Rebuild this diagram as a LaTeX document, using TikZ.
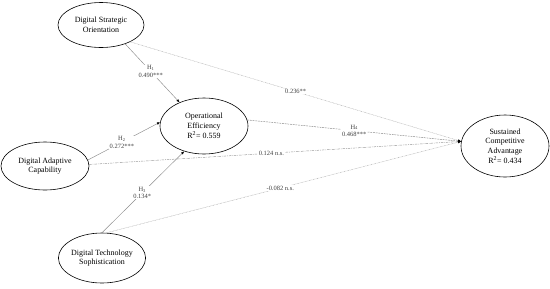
\documentclass[tikz,border=0pt]{standalone}
\usepackage{fontspec}
\setmainfont{Liberation Serif}
\usetikzlibrary{shapes.geometric,arrows.meta}
\begin{document}
\begin{tikzpicture}[x=1bp,y=-1bp,
  construct/.style={draw=black,line width=0.6pt,ellipse,inner sep=0pt,align=center,font=\fontsize{8}{9.8}\selectfont},
  path/.style={draw=black!45,line width=0.45pt,-{Latex[length=3.2pt,width=2.6pt,black]}},
  dotline/.style={draw=black!30,line width=0.5pt,dash pattern=on 0.7pt off 0.7pt,-{Latex[length=3.2pt,width=2.6pt,black]}},
  dashline/.style={draw=black!45,line width=0.5pt,dash pattern=on 1.8pt off 0.9pt,-{Latex[length=3.2pt,width=2.6pt,black]}},
  dashdotline/.style={draw=black!40,line width=0.5pt,dash pattern=on 2.5pt off 1pt on 0.7pt off 1pt,-{Latex[length=3.2pt,width=2.6pt,black]}},
  lab/.style={fill=white,inner sep=0.6pt,align=center,font=\fontsize{6.5}{7.5}\selectfont,text=black!75}]
\useasboundingbox (0,0) rectangle (550,288);
\node[construct,minimum width=86bp,minimum height=45bp] (dso) at (101,25) {Digital Strategic\\Orientation};
\node[construct,minimum width=88bp,minimum height=48bp] (dac) at (45,166) {Digital Adaptive\\Capability};
\node[construct,minimum width=86bp,minimum height=50bp] (dts) at (102,258) {Digital Technology\\Sophistication};
\node[construct,minimum width=88bp,minimum height=56bp] (oe) at (204,126) {Operational\\Efficiency\\R\textsuperscript{2}= 0.559};
\node[construct,minimum width=88bp,minimum height=62bp] (sca) at (505,146) {Sustained\\Competitive\\Advantage\\R\textsuperscript{2}= 0.434};
\coordinate (tip) at (sca.174);
% paths to Operational Efficiency
\draw[path] (dso.-38) -- node[lab,pos=0.47] {H\textsubscript{1}\\0.490***} (oe.136);
\draw[path] (dac.8) -- node[lab,pos=0.47] {H\textsubscript{2}\\0.272***} (oe.175);
\draw[path] (dts.90) -- node[lab,pos=0.49] {H\textsubscript{3}\\0.134*} (oe.-128);
% paths to Sustained Competitive Advantage
\draw[dotline] (dso.-30) -- node[lab,pos=0.5] {0.236**} (tip);
\draw[dashline] (oe.8) -- node[lab,pos=0.5] {H\textsubscript{4}\\0.468***} (tip);
\draw[dashdotline] (dac.2) -- node[lab,pos=0.49] {0.124 n.s.} (tip);
\draw[dotline] (dts.80) -- node[lab,pos=0.49] {-0.082 n.s.} (tip);
\end{tikzpicture}
\end{document}
